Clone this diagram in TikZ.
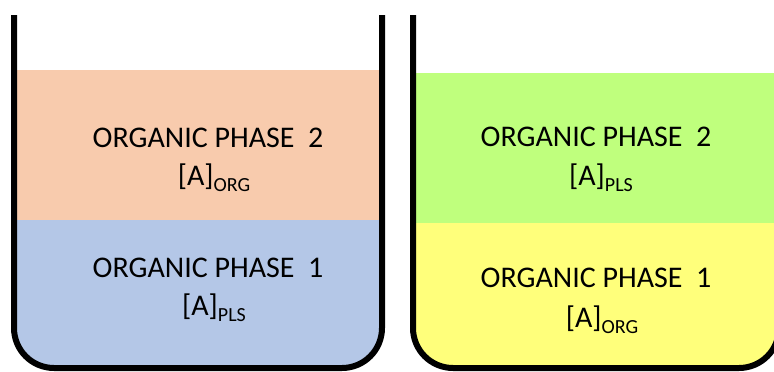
\documentclass[tikz,border=0pt]{standalone}
\usepackage{fontspec}
\setmainfont{Carlito}
\definecolor{peach}{HTML}{F8CBAD}
\definecolor{paleblue}{HTML}{B4C7E7}
\definecolor{limegreen}{HTML}{BFFF7D}
\definecolor{paleyellow}{HTML}{FFFF7B}
\newcommand{\conc}[1]{[A]\raisebox{-6pt}{\fontsize{20}{20}\selectfont #1}}
\tikzset{
  wall/.style={line width=6pt, draw=black, line join=round},
  phase/.style={inner sep=0pt, anchor=base, font=\fontsize{30}{36}\selectfont},
}
\begin{document}
\begin{tikzpicture}[x=1pt,y=-1pt]
\useasboundingbox (0,0) rectangle (774,372);
% left beaker contents
\begin{scope}
  \clip (14,15) -- (14,328) arc[start angle=180,end angle=90,radius=40] -- (342,368)
        arc[start angle=90,end angle=0,radius=40] -- (382,15) -- cycle;
  \fill[peach] (0,70) rectangle (400,220);
  \fill[paleblue] (0,220) rectangle (400,372);
\end{scope}
% right beaker contents
\begin{scope}
  \clip (413,15) -- (413,328) arc[start angle=180,end angle=90,radius=40] -- (739,368)
        arc[start angle=90,end angle=0,radius=40] -- (779,15) -- cycle;
  \fill[limegreen] (400,73) rectangle (800,223);
  \fill[paleyellow] (400,223) rectangle (800,372);
\end{scope}
% beaker walls
\draw[wall] (14,15) -- (14,328) arc[start angle=180,end angle=90,radius=40] -- (342,368)
      arc[start angle=90,end angle=0,radius=40] -- (382,15);
\draw[wall] (413,15) -- (413,328) arc[start angle=180,end angle=90,radius=40] -- (739,368)
      arc[start angle=90,end angle=0,radius=40] -- (779,15);
% labels
\node[phase] (l2a) at (208,147) {ORGANIC PHASE\ \ 2};
\node[phase] (l2b) at (214,185) {\conc{ORG}};
\node[phase] (l1a) at (208,277) {ORGANIC PHASE\ \ 1};
\node[phase] (l1b) at (214,315) {\conc{PLS}};
\node[phase] (r2a) at (596,146) {ORGANIC PHASE\ \ 2};
\node[phase] (r2b) at (601,185) {\conc{PLS}};
\node[phase] (r1a) at (596,287) {ORGANIC PHASE\ \ 1};
\node[phase] (r1b) at (602,327) {\conc{ORG}};
\end{tikzpicture}
\end{document}
